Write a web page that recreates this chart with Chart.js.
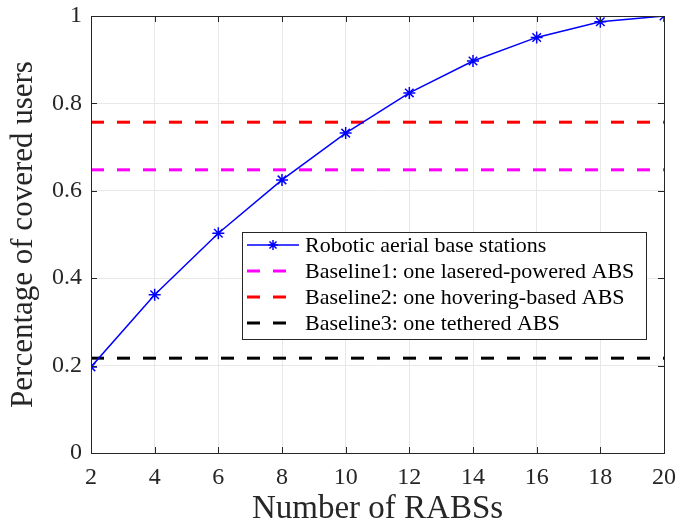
<!DOCTYPE html>
<html>
<head>
<meta charset="utf-8">
<script src="https://cdn.jsdelivr.net/npm/chart.js@4"></script>
<style>
  html, body { margin: 0; padding: 0; background: #fff; }
  #wrap { width: 678px; height: 527px; }
</style>
</head>
<body>
<div id="wrap"><canvas id="coverageChart" width="678" height="527"></canvas></div>
<script>
// Datos
const numRabs = [2, 4, 6, 8, 10, 12, 14, 16, 18, 20];
const coveredRabs = [0.197, 0.362, 0.503, 0.625, 0.732, 0.824, 0.897, 0.951, 0.987, 1.0];
const baselineLabels = [
  'Baseline1: one lasered-powered ABS',
  'Baseline2: one hovering-based ABS',
  'Baseline3: one tethered ABS'
];
const baselineValues = [0.648, 0.757, 0.217];
const baselineColors = ['#ff00ff', '#ff0000', '#000000'];
const xTicks = [2, 4, 6, 8, 10, 12, 14, 16, 18, 20];
const yTicks = [0, 0.2, 0.4, 0.6, 0.8, 1];

const serif = '"Liberation Serif", "DejaVu Serif", serif';

// Quitar el relleno automático para fijar el área de la gráfica
function noPadding(s) {
  s.paddingLeft = 0; s.paddingRight = 0; s.paddingTop = 0; s.paddingBottom = 0;
}

// Marco y marcas hacia dentro al estilo MATLAB
const framePlugin = {
  id: 'frame',
  afterDatasetsDraw(chart) {
    const { ctx, chartArea: a, scales } = chart;
    ctx.save();
    ctx.strokeStyle = '#262626';
    ctx.lineWidth = 1;
    ctx.strokeRect(a.left + 0.5, a.top + 0.5, a.right - a.left, a.bottom - a.top);
    ctx.beginPath();
    xTicks.forEach(v => {
      const x = Math.round(scales.x.getPixelForValue(v)) + 0.5;
      ctx.moveTo(x, a.bottom); ctx.lineTo(x, a.bottom - 6);
      ctx.moveTo(x, a.top); ctx.lineTo(x, a.top + 6);
    });
    yTicks.forEach(v => {
      const y = Math.round(scales.y.getPixelForValue(v)) + 0.5;
      ctx.moveTo(a.left, y); ctx.lineTo(a.left + 6, y);
      ctx.moveTo(a.right, y); ctx.lineTo(a.right - 6, y);
    });
    ctx.stroke();
    ctx.restore();
  }
};

// Leyenda dentro del área de la gráfica
const legendPlugin = {
  id: 'innerLegend',
  afterDraw(chart) {
    const { ctx, chartArea: a } = chart;
    const right = a.right - 18, top = 232, w = 404, h = 107;
    const left = right - w;
    ctx.save();
    ctx.fillStyle = '#fff';
    ctx.fillRect(left, top, w, h);
    ctx.strokeStyle = '#262626';
    ctx.lineWidth = 1;
    ctx.strokeRect(left + 0.5, top + 0.5, w, h);
    ctx.font = '22px ' + serif;
    ctx.textBaseline = 'middle';
    chart.data.datasets.forEach((ds, i) => {
      const y = top + 13 + i * 26;
      const x0 = left + 5, x1 = left + 57;
      ctx.strokeStyle = ds.borderColor;
      ctx.lineWidth = ds.borderWidth;
      ctx.setLineDash(ds.borderDash || []);
      ctx.beginPath();
      ctx.moveTo(x0, y); ctx.lineTo(x1, y);
      ctx.stroke();
      ctx.setLineDash([]);
      if (ds.pointStyle === 'star') {
        const cx = (x0 + x1) / 2, r = 5;
        ctx.lineWidth = 1.5;
        ctx.beginPath();
        for (let k = 0; k < 4; k++) {
          const ang = k * Math.PI / 4;
          ctx.moveTo(cx - r * Math.cos(ang), y - r * Math.sin(ang));
          ctx.lineTo(cx + r * Math.cos(ang), y + r * Math.sin(ang));
        }
        ctx.stroke();
      }
      ctx.fillStyle = '#000';
      ctx.fillText(ds.label, left + 63, y + 1);
    });
    ctx.restore();
  }
};

const datasets = [{
  label: 'Robotic aerial base stations',
  data: numRabs.map((n, i) => ({ x: n, y: coveredRabs[i] })),
  borderColor: '#0000ff',
  backgroundColor: '#0000ff',
  borderWidth: 1.5,
  pointStyle: 'star',
  pointRadius: 6,
  pointBorderWidth: 1.5,
  tension: 0
}];
baselineLabels.forEach((label, i) => {
  datasets.push({
    label: label,
    data: [{ x: numRabs[0], y: baselineValues[i] }, { x: numRabs[numRabs.length - 1], y: baselineValues[i] }],
    borderColor: baselineColors[i],
    borderWidth: 3,
    borderDash: [13, 13],
    pointRadius: 0
  });
});

new Chart(document.getElementById('coverageChart').getContext('2d'), {
  type: 'line',
  data: { datasets },
  plugins: [framePlugin, legendPlugin],
  options: {
    responsive: false,
    animation: false,
    layout: { padding: { left: 0, top: 16, right: 14, bottom: 0 } },
    plugins: { legend: { display: false }, tooltip: { enabled: false } },
    scales: {
      x: {
        type: 'linear',
        min: 2, max: 20,
        afterBuildTicks: s => { s.ticks = xTicks.map(v => ({ value: v })); },
        afterFit: s => { s.height = 74; noPadding(s); },
        grid: { color: '#e8e8e8', tickLength: 0, drawTicks: false },
        border: { display: false },
        ticks: { color: '#262626', font: { family: serif, size: 24 }, padding: 10, maxRotation: 0 },
        title: { display: true, text: 'Number of RABSs', color: '#262626', font: { family: serif, size: 33 }, padding: { top: 0, bottom: -2 } }
      },
      y: {
        min: 0, max: 1,
        afterBuildTicks: s => { s.ticks = yTicks.map(v => ({ value: v })); },
        afterFit: s => { s.width = 91; noPadding(s); },
        grid: { color: '#e8e8e8', tickLength: 0, drawTicks: false },
        border: { display: false },
        ticks: { color: '#262626', font: { family: serif, size: 24 }, padding: 9, callback: v => String(v) },
        title: { display: true, text: 'Percentage of covered users', color: '#262626', font: { family: serif, size: 31 }, padding: { top: 5, bottom: 0 } }
      }
    }
  }
});
</script>
</body>
</html>
